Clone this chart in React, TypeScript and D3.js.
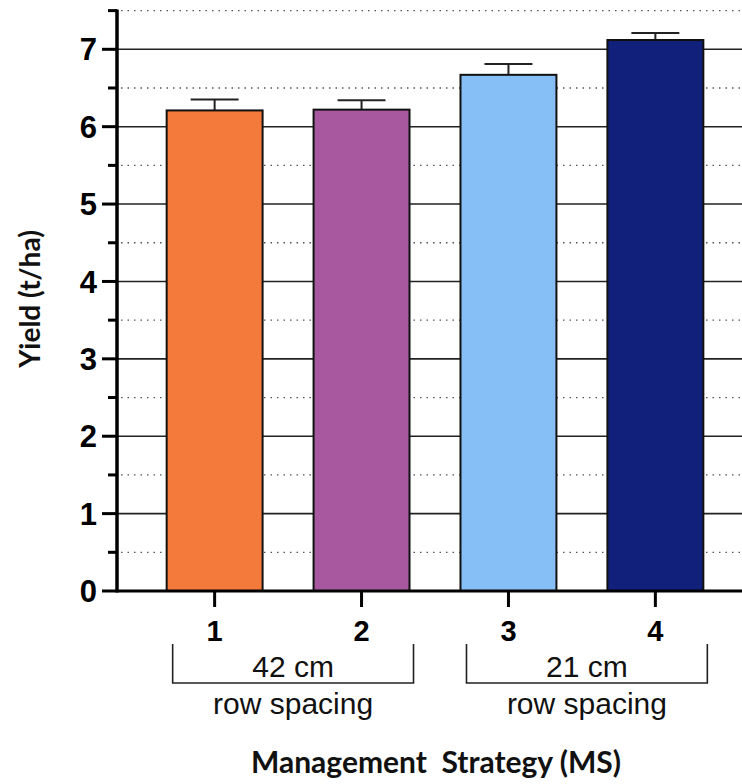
import React from "react";
import * as d3 from "d3";

const categories = ["1", "2", "3", "4"];
const yieldMeans = [6.21, 6.22, 6.67, 7.12];
const yieldErrors = [0.14, 0.12, 0.14, 0.09];
const barColors = ["#F37A3B", "#A8589E", "#86BFF5", "#11207A"];
const majorTicks = [0, 1, 2, 3, 4, 5, 6, 7];
const minorTicks = [0.5, 1.5, 2.5, 3.5, 4.5, 5.5, 6.5, 7.5];
const groupLabels = ["42 cm", "21 cm"];
const groupSub = ["row spacing", "row spacing"];
const groupStart = ["1", "3"];
const groupEnd = ["2", "4"];
const yTitle = "Yield (t/ha)";
const xTitle = "Management  Strategy (MS)";

const W = 742;
const H = 784;

export default function App() {
  const axisX = 117;
  const y = d3.scaleLinear().domain([0, 7.5]).range([591, 10.6]);
  const x = d3
    .scaleBand<string>()
    .domain(categories)
    .range([axisX, 753])
    .paddingInner(0.347)
    .paddingOuter(0.338);
  const bw = x.bandwidth();
  const y0 = y(0);

  return (
    <svg
      width={W}
      height={H}
      style={{ position: "absolute", left: 0, top: 0, background: "#fff" }}
      fontFamily="'Liberation Sans', Arial, sans-serif"
    >
      {/* minor dotted gridlines */}
      {minorTicks.map((t) => (
        <line
          key={"mg" + t}
          x1={axisX + 4}
          x2={W}
          y1={y(t)}
          y2={y(t)}
          stroke="#555"
          strokeWidth={1.3}
          strokeDasharray="1.5,5"
        />
      ))}
      {/* major gridlines */}
      {majorTicks
        .filter((t) => t > 0)
        .map((t) => (
          <line
            key={"Mg" + t}
            x1={axisX}
            x2={W}
            y1={y(t)}
            y2={y(t)}
            stroke="#222"
            strokeWidth={1.6}
          />
        ))}
      {/* bars */}
      {categories.map((c, i) => {
        const bx = x(c)!;
        const cx = bx + bw / 2;
        const top = y(yieldMeans[i]);
        const et = y(yieldMeans[i] + yieldErrors[i]);
        return (
          <g key={"b" + c}>
            <line x1={cx} x2={cx} y1={top} y2={et} stroke="#222" strokeWidth={2} />
            <line x1={cx - bw / 4} x2={cx + bw / 4} y1={et} y2={et} stroke="#222" strokeWidth={2} />
            <rect
              x={bx}
              y={top}
              width={bw}
              height={y0 - top}
              fill={barColors[i]}
              stroke="#111"
              strokeWidth={2}
            />
          </g>
        );
      })}
      {/* y axis */}
      <line x1={axisX} x2={axisX} y1={y(7.5) - 1} y2={y0 + 1.5} stroke="#000" strokeWidth={3.5} />
      {majorTicks.map((t) => (
        <line key={"yt" + t} x1={102} x2={axisX} y1={y(t)} y2={y(t)} stroke="#000" strokeWidth={3} />
      ))}
      {minorTicks.map((t) => (
        <line key={"ym" + t} x1={108} x2={axisX} y1={y(t)} y2={y(t)} stroke="#000" strokeWidth={3} />
      ))}
      {majorTicks.map((t) => (
        <text
          key={"yl" + t}
          x={97}
          y={y(t)}
          dy="0.36em"
          textAnchor="end"
          fontWeight="bold"
          fontSize={31}
          fill="#000"
        >
          {t}
        </text>
      ))}
      {/* x axis */}
      <line x1={axisX} x2={W} y1={y0} y2={y0} stroke="#000" strokeWidth={3} />
      {categories.map((c) => {
        const cx = x(c)! + bw / 2;
        return (
          <g key={"xt" + c}>
            <line x1={cx} x2={cx} y1={y0} y2={y0 + 16} stroke="#000" strokeWidth={3} />
            <text x={cx} y={641} textAnchor="middle" fontWeight="bold" fontSize={29} fill="#000">
              {c}
            </text>
          </g>
        );
      })}
      {/* group brackets */}
      {groupLabels.map((g, i) => {
        const l = x(groupStart[i])! + 6;
        const r = x(groupEnd[i])! + bw + 4;
        const mid = (l + r) / 2;
        return (
          <g key={"g" + i}>
            <path
              d={`M${l},644 V683 H${r} V644`}
              fill="none"
              stroke="#222"
              strokeWidth={1.6}
            />
            <text x={mid} y={677} textAnchor="middle" fontSize={30} fill="#111">
              {g}
            </text>
            <text x={mid} y={714} textAnchor="middle" fontSize={30} fill="#111">
              {groupSub[i]}
            </text>
          </g>
        );
      })}
      {/* titles */}
      <text
        transform={`translate(40,299) rotate(-90)`}
        textAnchor="middle"
        fontFamily="Lato, 'Open Sans', sans-serif"
        fontWeight="bold"
        fontSize={28}
        fill="#111"
      >
        {yTitle}
      </text>
      <text
        x={436}
        y={773}
        textAnchor="middle"
        fontFamily="Lato, 'Open Sans', sans-serif"
        fontWeight="bold"
        fontSize={30}
        fill="#111"
        style={{ whiteSpace: "pre" }}
      >
        {xTitle}
      </text>
    </svg>
  );
}
